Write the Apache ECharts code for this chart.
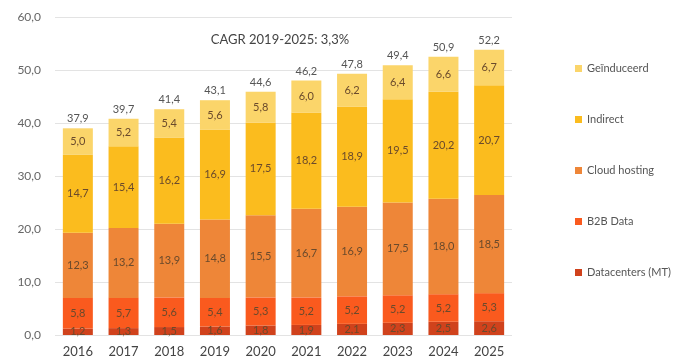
<!DOCTYPE html>
<html><head><meta charset="utf-8">
<script src="https://cdn.jsdelivr.net/npm/echarts@6/dist/echarts.min.js"></script>
<style>html,body{margin:0;padding:0;background:#fff}#c{width:697px;height:363px}</style>
</head><body><div id="c"></div>
<script>
var years = ['2016','2017','2018','2019','2020','2021','2022','2023','2024','2025'];
var datacenters = [1.2,1.3,1.5,1.6,1.8,1.9,2.1,2.3,2.5,2.6];
var b2bData = [5.8,5.7,5.6,5.4,5.3,5.2,5.2,5.2,5.2,5.3];
var cloudHosting = [12.3,13.2,13.9,14.8,15.5,16.7,16.9,17.5,18.0,18.5];
var indirect = [14.7,15.4,16.2,16.9,17.5,18.2,18.9,19.5,20.2,20.7];
var geinduceerd = [5.0,5.2,5.4,5.6,5.8,6.0,6.2,6.4,6.6,6.7];
var totals = [37.9,39.7,41.4,43.1,44.6,46.2,47.8,49.4,50.9,52.2];
var yTicks = [0,10,20,30,40,50,60];
var titleText = 'CAGR 2019-2025: 3,3%';

function fmt(v){ return Number(v).toFixed(1).replace('.', ','); }
var FONT = 'Lato';
var segLabel = {show:true, position:'inside', fontFamily:FONT, fontSize:11, color:'#6a4a2c',
  formatter:function(p){return fmt(p.value);}};
function mk(name, data, color){
  return {name:name, type:'bar', stack:'t', data:data, barWidth:30,
    itemStyle:{color:color}, label:segLabel, emphasis:{disabled:true}};
}
var chart = echarts.init(document.getElementById('c'), null, {renderer:'canvas'});
chart.setOption({
  animation:false,
  title:{text:titleText, left:275, top:28, textAlign:'center',
    textStyle:{fontFamily:FONT, fontSize:13, fontWeight:'normal', color:'#444'}},
  legend:{orient:'vertical', left:570, top:58, itemWidth:7, itemHeight:7, itemGap:40,
    icon:'rect', textStyle:{fontFamily:FONT, fontSize:11, color:'#555'},
    data:['Geïnduceerd','Indirect','Cloud hosting','B2B Data','Datacenters (MT)']},
  grid:{left:55, right:185, top:17, bottom:28},
  xAxis:{type:'category', data:years, axisLine:{show:false}, axisTick:{show:false},
    axisLabel:{fontFamily:FONT, fontSize:13, color:'#444', margin:10}},
  yAxis:{type:'value', min:yTicks[0], max:yTicks[yTicks.length-1], interval:10,
    axisLabel:{fontFamily:FONT, fontSize:12, color:'#666', margin:14, formatter:function(v){return fmt(v);}},
    splitLine:{lineStyle:{color:'#e3e3e3'}}},
  series:[
    mk('Datacenters (MT)', datacenters, '#d0421c'),
    mk('B2B Data', b2bData, '#fa5a1e'),
    mk('Cloud hosting', cloudHosting, '#ee8638'),
    mk('Indirect', indirect, '#fbbc1e'),
    mk('Geïnduceerd', geinduceerd, '#fbd56a'),
    {name:'totals', type:'bar', stack:'t', barWidth:30, data:years.map(function(){return 0;}),
      itemStyle:{color:'transparent'}, silent:true,
      label:{show:true, position:'top', distance:4, fontFamily:FONT, fontSize:11, color:'#555',
        formatter:function(p){return fmt(totals[p.dataIndex]);}}}
  ]
});
</script></body></html>
